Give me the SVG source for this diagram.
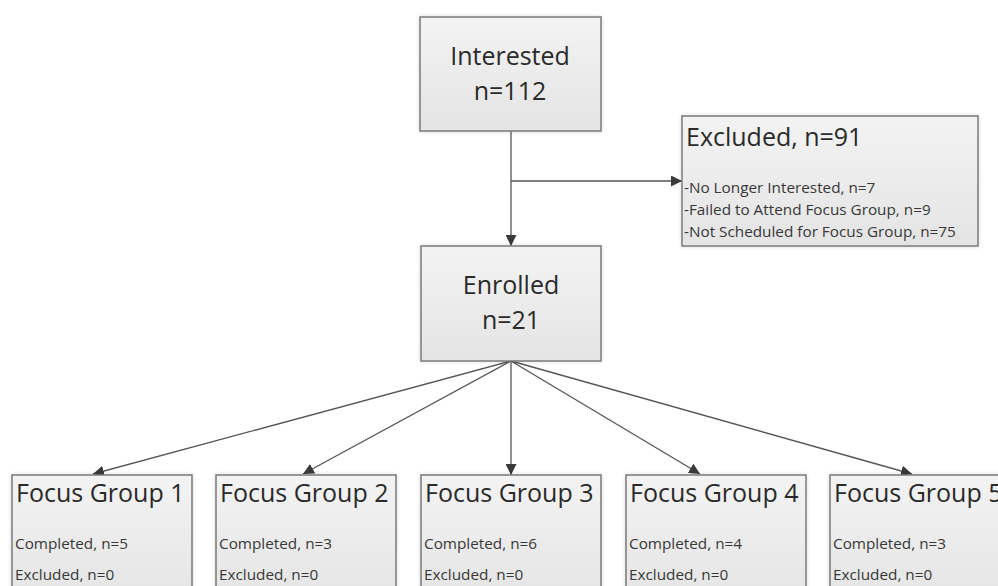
<svg xmlns="http://www.w3.org/2000/svg" width="998" height="586" viewBox="0 0 998 586">
<defs>
<linearGradient id="g" x1="0" y1="0" x2="0" y2="1">
<stop offset="0" stop-color="#f3f3f3"/>
<stop offset="1" stop-color="#e4e4e4"/>
</linearGradient>
<marker id="ah" viewBox="0 0 10 10" refX="10" refY="5" markerWidth="11" markerHeight="11" markerUnits="userSpaceOnUse" orient="auto">
<path d="M0,0 L10,5 L0,10 z" fill="#3a3a3a"/>
</marker>
<filter id="sh" x="-5%" y="-5%" width="110%" height="110%">
<feGaussianBlur in="SourceAlpha" stdDeviation="2"/>
<feComponentTransfer><feFuncA type="linear" slope="0.15"/></feComponentTransfer>
<feMerge><feMergeNode/><feMergeNode in="SourceGraphic"/></feMerge>
</filter>
</defs>
<style>
.box{fill:url(#g);stroke:#7a7a7a;stroke-width:1.5;filter:url(#sh)}
.big{font-family:"Open Sans","Liberation Sans",sans-serif;font-size:25px;fill:#2a2a2a}
.cen{text-anchor:middle}
.sm{font-family:"Open Sans","Liberation Sans",sans-serif;font-size:15.3px;fill:#383838}
.ln{stroke:#555;stroke-width:1.3;fill:none}
</style>
<rect width="998" height="586" fill="#fff"/>
<g id="connectors">
<line class="ln" x1="511" y1="131" x2="511" y2="246" marker-end="url(#ah)"/>
<line class="ln" x1="511" y1="181" x2="682" y2="181" marker-end="url(#ah)"/>
<line class="ln" x1="511" y1="361" x2="93" y2="474" marker-end="url(#ah)"/>
<line class="ln" x1="511" y1="361" x2="303" y2="474" marker-end="url(#ah)"/>
<line class="ln" x1="511" y1="361" x2="511" y2="475" marker-end="url(#ah)"/>
<line class="ln" x1="511" y1="361" x2="700" y2="474" marker-end="url(#ah)"/>
<line class="ln" x1="511" y1="361" x2="912" y2="474" marker-end="url(#ah)"/>
</g>
<g id="interested">
<rect class="box" x="420" y="17" width="181" height="114"/>
<text class="big cen" x="510" y="65">Interested</text>
<text class="big cen" x="510" y="100">n=112</text>
</g>
<g id="excluded">
<rect class="box" x="682" y="116" width="296" height="130"/>
<text class="big" x="686" y="146">Excluded, n=91</text>
<text class="sm" x="684" y="193">-No Longer Interested, n=7</text>
<text class="sm" x="684" y="215">-Failed to Attend Focus Group, n=9</text>
<text class="sm" x="684" y="237">-Not Scheduled for Focus Group, n=75</text>
</g>
<g id="enrolled">
<rect class="box" x="421" y="246" width="180" height="115"/>
<text class="big cen" x="511" y="294">Enrolled</text>
<text class="big cen" x="511" y="329">n=21</text>
</g>
<g id="fg1">
<rect class="box" x="12" y="475" width="180" height="130"/>
<text class="big" x="16" y="502">Focus Group 1</text>
<text class="sm" x="15" y="549">Completed, n=5</text>
<text class="sm" x="15" y="580">Excluded, n=0</text>
</g>
<g id="fg2">
<rect class="box" x="216" y="475" width="180" height="130"/>
<text class="big" x="220" y="502">Focus Group 2</text>
<text class="sm" x="219" y="549">Completed, n=3</text>
<text class="sm" x="219" y="580">Excluded, n=0</text>
</g>
<g id="fg3">
<rect class="box" x="421" y="475" width="180" height="130"/>
<text class="big" x="425" y="502">Focus Group 3</text>
<text class="sm" x="424" y="549">Completed, n=6</text>
<text class="sm" x="424" y="580">Excluded, n=0</text>
</g>
<g id="fg4">
<rect class="box" x="626" y="475" width="180" height="130"/>
<text class="big" x="630" y="502">Focus Group 4</text>
<text class="sm" x="629" y="549">Completed, n=4</text>
<text class="sm" x="629" y="580">Excluded, n=0</text>
</g>
<g id="fg5">
<rect class="box" x="830" y="475" width="180" height="130"/>
<text class="big" x="834" y="502">Focus Group 5</text>
<text class="sm" x="833" y="549">Completed, n=3</text>
<text class="sm" x="833" y="580">Excluded, n=0</text>
</g>
</svg>
